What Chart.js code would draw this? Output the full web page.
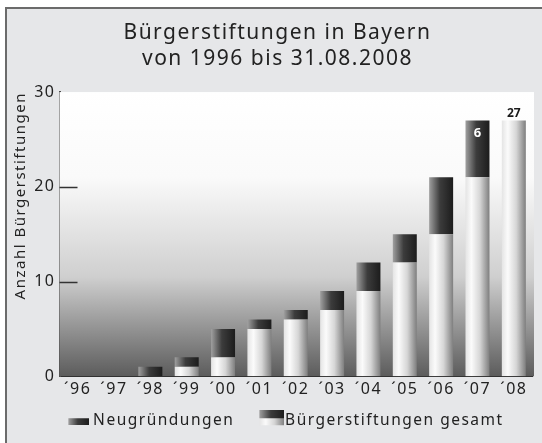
<!DOCTYPE html>
<html>
<head>
    <title>buergerstiftungen</title>
    <meta charset="utf-8">
    <script src="https://cdn.jsdelivr.net/npm/chart.js"></script>
    <style>
        body { margin: 0; background: #fff; }
        #frame {
            position: absolute; left: 5px; top: 7px;
            width: 535px; height: 434px;
            border-top: 2px solid #6b6b6b; border-left: 2px solid #6b6b6b;
            background: #e6e7e9;
        }
        canvas { display: block; }
    </style>
</head>
<body>
    <div id="frame">
        <canvas id="chart" width="535" height="434"></canvas>
    </div>

    <script>
        const jahre = ['´96', '´97', '´98', '´99', '´00', '´01', '´02', '´03', '´04', '´05', '´06', '´07', '´08'];
        // Bestand vor dem Jahr (heller Teil) und Neugruendungen im Jahr (dunkler Teil)
        const bestand = [0, 0, 0, 1, 2, 5, 6, 7, 9, 12, 15, 21, 27];
        const neugruendungen = [0, 0, 1, 1, 3, 1, 1, 2, 3, 3, 6, 6, 0];
        const yTicks = [0, 10, 20, 30];

        const FONT = '"Noto Sans", sans-serif';
        const BAR_PCT = 0.66;
        const LEGEND_BOX = 34;

        function barGradient(ctx, stops) {
            const chart = ctx.chart;
            const x = chart.scales.x;
            if (!x || ctx.dataIndex === undefined) return stops[0][1];
            const cx = x.getPixelForValue(ctx.dataIndex);
            const w = (x.width / jahre.length) * BAR_PCT;
            const g = chart.ctx.createLinearGradient(cx - w / 2, 0, cx + w / 2, 0);
            stops.forEach(s => g.addColorStop(s[0], s[1]));
            return g;
        }
        const lightStops = [[0, '#e4e4e4'], [0.25, '#fbfbfb'], [0.6, '#d6d6d6'], [1, '#7e7e7e']];
        const darkStops = [[0, '#a0a0a0'], [0.45, '#3c3c3c'], [1, '#1c1c1c']];

        // Legendensymbol: sichtbares Kaestchen (w x h) versetzt um dx/dy zur Mitte
        function legendSwatch(w, h, dx, dy, split) {
            const W = 2 * Math.max(Math.abs(dx), Math.abs(dx + w));
            const H = 2 * Math.max(Math.abs(dy), Math.abs(dy + h));
            const c = document.createElement('canvas');
            c.width = W; c.height = H;
            const cx = c.getContext('2d');
            const x0 = W / 2 + dx, y0 = H / 2 + dy;
            const dark = cx.createLinearGradient(x0, 0, x0 + w, 0);
            darkStops.forEach(s => dark.addColorStop(s[0], s[1]));
            const light = cx.createLinearGradient(x0, 0, x0 + w, 0);
            lightStops.forEach(s => light.addColorStop(s[0], s[1]));
            if (split) {
                const hh = Math.round(h / 2);
                cx.fillStyle = dark; cx.fillRect(x0, y0, w, hh);
                cx.fillStyle = light; cx.fillRect(x0, y0 + hh, w, h - hh);
            } else {
                cx.fillStyle = dark; cx.fillRect(x0, y0, w, h);
            }
            return c;
        }

        const spacing = {
            id: 'spacing',
            beforeUpdate(chart) { chart.ctx.letterSpacing = '1.5px'; },
            beforeDraw(chart) { chart.ctx.letterSpacing = '1.5px'; }
        };

        const plotBackground = {
            id: 'plotBackground',
            beforeDatasetsDraw(chart) {
                const { ctx, chartArea: a } = chart;
                const g = ctx.createLinearGradient(0, a.top, 0, a.bottom);
                g.addColorStop(0, '#ffffff');
                g.addColorStop(0.3, '#fafafa');
                g.addColorStop(0.65, '#cfcfcf');
                g.addColorStop(1, '#5c5c5c');
                ctx.save();
                ctx.fillStyle = g;
                ctx.fillRect(a.left, a.top, a.right - a.left + 2, a.bottom - a.top);
                // kurze Striche an der y-Achse
                const y = chart.scales.y;
                ctx.strokeStyle = '#333';
                ctx.lineWidth = 1.5;
                [10, 20].forEach(v => {
                    const py = Math.round(y.getPixelForValue(v)) + 0.5;
                    ctx.beginPath();
                    ctx.moveTo(a.left, py);
                    ctx.lineTo(a.left + 18, py);
                    ctx.stroke();
                });
                ctx.restore();
            }
        };

        const valueLabels = {
            id: 'valueLabels',
            afterDatasetsDraw(chart) {
                const { ctx } = chart;
                const meta = chart.getDatasetMeta(1);
                ctx.save();
                ctx.textAlign = 'center';
                ctx.letterSpacing = '0px';
                const e7 = meta.data[11];
                ctx.fillStyle = '#ffffff';
                ctx.font = 'bold 13px ' + FONT;
                ctx.textBaseline = 'top';
                ctx.fillText(String(neugruendungen[11]), e7.x, e7.y + 6);
                const e8 = meta.data[12];
                ctx.fillStyle = '#1a1a1a';
                ctx.font = 'bold 12px ' + FONT;
                ctx.textBaseline = 'bottom';
                ctx.fillText(String(bestand[12] + neugruendungen[12]), e8.x, e8.y - 1);
                ctx.restore();
            }
        };

        new Chart(document.getElementById('chart'), {
            type: 'bar',
            data: {
                labels: jahre,
                datasets: [{
                    label: 'Bürgerstiftungen gesamt',
                    data: bestand,
                    backgroundColor: ctx => barGradient(ctx, lightStops),
                    barPercentage: BAR_PCT,
                    categoryPercentage: 1
                }, {
                    label: 'Neugründungen',
                    data: neugruendungen,
                    backgroundColor: ctx => barGradient(ctx, darkStops),
                    barPercentage: BAR_PCT,
                    categoryPercentage: 1
                }]
            },
            options: {
                responsive: false,
                animation: false,
                layout: { padding: { left: 16, right: 10, top: 0, bottom: 5 } },
                scales: {
                    x: {
                        stacked: true,
                        grid: { display: false, drawTicks: false },
                        border: { display: true, color: '#1e1e1e', width: 2 },
                        ticks: { color: '#222', font: { family: FONT, size: 16 }, padding: 4, maxRotation: 0, autoSkip: false }
                    },
                    y: {
                        stacked: true,
                        min: 0,
                        max: 30,
                        afterBuildTicks: axis => { axis.ticks = yTicks.map(v => ({ value: v })); },
                        grid: { display: false, drawTicks: false },
                        border: { display: true, color: '#4a4a4a', width: 2 },
                        ticks: { color: '#222', font: { family: FONT, size: 16 }, padding: 4 },
                        title: {
                            display: true,
                            text: 'Anzahl Bürgerstiftungen',
                            align: 'end',
                            color: '#222',
                            font: { family: FONT, size: 15 },
                            padding: { top: -11, bottom: 0.2 }
                        }
                    }
                },
                plugins: {
                    title: {
                        display: true,
                        text: ['Bürgerstiftungen in Bayern', 'von 1996 bis 31.08.2008'],
                        color: '#222',
                        font: { family: FONT, size: 21, weight: 'normal', lineHeight: 1.24 },
                        padding: { top: 11, bottom: 20 }
                    },
                    legend: {
                        position: 'bottom',
                        labels: {
                            color: '#222',
                            font: { family: FONT, size: 15.5 },
                            usePointStyle: true,
                            pointStyleWidth: LEGEND_BOX,
                            padding: 9,
                            generateLabels: () => [
                                { text: 'Neugründungen', pointStyle: legendSwatch(21, 7, 0, -2, false), fontColor: '#222', lineWidth: 0, strokeStyle: 'rgba(0,0,0,0)' },
                                { text: 'Bürgerstiftungen gesamt', pointStyle: legendSwatch(25, 15, -1, -10, true), fontColor: '#222', lineWidth: 0, strokeStyle: 'rgba(0,0,0,0)' }
                            ]
                        }
                    },
                    tooltip: { enabled: false }
                }
            },
            plugins: [spacing, plotBackground, valueLabels]
        });
    </script>
</body>
</html>
